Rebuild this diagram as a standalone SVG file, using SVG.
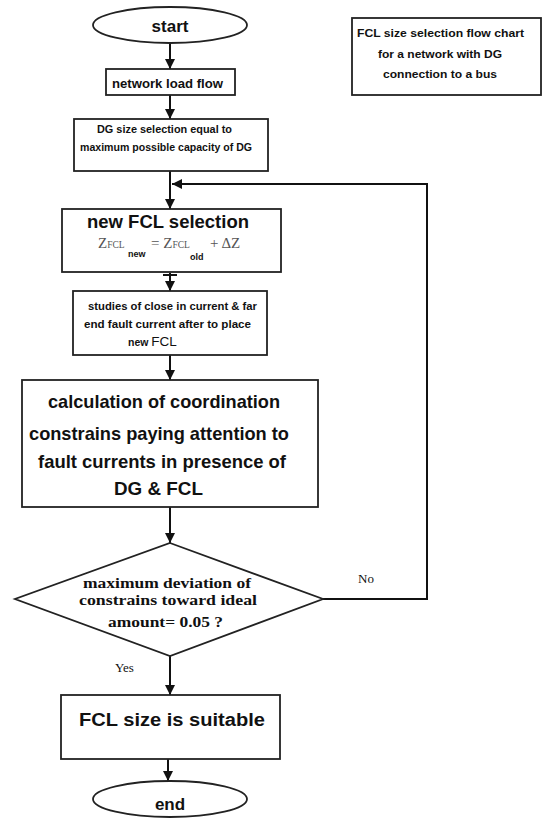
<svg xmlns="http://www.w3.org/2000/svg" width="542" height="818" viewBox="0 0 542 818">
<defs>
<marker id="ah" viewBox="0 0 10 10" refX="10" refY="5" markerWidth="10" markerHeight="10" markerUnits="userSpaceOnUse" orient="auto">
<path d="M0,0 L10,5 L0,10 z" fill="#111"/>
</marker>
<style>
.box{fill:#fff;stroke:#222;stroke-width:1.8}
.con{fill:none;stroke:#111;stroke-width:2}
.sans{font-family:"Liberation Sans",Arial,sans-serif;font-weight:bold;fill:#111}
.serif{font-family:"Liberation Serif","Times New Roman",serif;fill:#111}
.reg{font-weight:normal}
.mid{text-anchor:middle}
</style>
</defs>
<rect width="542" height="818" fill="#fff"/>

<g id="connectors">
<path class="con" d="M170 43 V69" marker-end="url(#ah)"/>
<path class="con" d="M170 95 V119" marker-end="url(#ah)"/>
<path class="con" d="M170 171 V209" marker-end="url(#ah)"/>
<path class="con" d="M323 599 H427 V184 H172" marker-end="url(#ah)"/>
<path class="con" d="M170 273 V291" marker-end="url(#ah)"/>
<path class="con" d="M163 275 H177"/>
<path class="con" d="M170 355 V380" marker-end="url(#ah)"/>
<path class="con" d="M170 507 V543" marker-end="url(#ah)"/>
<path class="con" d="M170 656 V695" marker-end="url(#ah)"/>
<path class="con" d="M168 759 V781" marker-end="url(#ah)"/>
</g>

<g id="start">
<ellipse class="box" cx="170" cy="25" rx="77" ry="18"/>
<text class="sans mid" x="170" y="32" font-size="17">start</text>
</g>

<g id="legend">
<rect class="box" x="352" y="18" width="189" height="77"/>
<text class="sans" x="357" y="37" font-size="11" textLength="167" lengthAdjust="spacingAndGlyphs">FCL size selection flow chart</text>
<text class="sans" x="378" y="58" font-size="11" textLength="124" lengthAdjust="spacingAndGlyphs">for a network with DG</text>
<text class="sans" x="383" y="78" font-size="11" textLength="114" lengthAdjust="spacingAndGlyphs">connection to a bus</text>
</g>

<g id="network">
<rect class="box" x="106" y="69" width="129" height="26"/>
<text class="sans" x="112" y="88" font-size="12.5" textLength="111" lengthAdjust="spacingAndGlyphs">network load flow</text>
</g>

<g id="dgsize">
<rect class="box" x="74" y="119" width="194" height="52"/>
<text class="sans" x="97" y="133" font-size="10.5" textLength="135" lengthAdjust="spacingAndGlyphs">DG size selection equal to</text>
<text class="sans" x="80" y="151" font-size="10.5" textLength="172" lengthAdjust="spacingAndGlyphs">maximum possible capacity of DG</text>
</g>

<g id="newfcl">
<rect class="box" x="62" y="209" width="219" height="63"/>
<text class="sans" x="87" y="228" font-size="18" textLength="162" lengthAdjust="spacingAndGlyphs">new FCL selection</text>
<g fill="#555" font-family="'Liberation Serif','Times New Roman',serif" font-size="15">
<text x="98" y="248">Z<tspan font-size="9.5">FCL</tspan></text>
<text x="151" y="248">= Z<tspan font-size="9.5">FCL</tspan></text>
<text x="210" y="248">+ ΔZ</text>
</g>
<text class="sans" x="128" y="257" font-size="9">new</text>
<text class="sans" x="190" y="260" font-size="9">old</text>
</g>

<g id="studies">
<rect class="box" x="73" y="291" width="194" height="64"/>
<text class="sans" x="88" y="310" font-size="10.5" textLength="169" lengthAdjust="spacingAndGlyphs">studies of close in current &amp; far</text>
<text class="sans" x="84" y="328" font-size="10.5" textLength="167" lengthAdjust="spacingAndGlyphs">end fault current after  to place</text>
<text class="sans" x="128" y="346" font-size="10.5">new <tspan class="reg" font-size="13.5" font-family="'Liberation Sans',Arial,sans-serif">FCL</tspan></text>
</g>

<g id="calc">
<rect class="box" x="22" y="380" width="296" height="127"/>
<text class="sans" x="48" y="408" font-size="18.5" textLength="232" lengthAdjust="spacingAndGlyphs">calculation of coordination</text>
<text class="sans" x="29" y="440" font-size="18.5" textLength="260" lengthAdjust="spacingAndGlyphs">constrains paying attention to</text>
<text class="sans" x="38" y="468" font-size="18.5" textLength="248" lengthAdjust="spacingAndGlyphs">fault currents in presence of</text>
<text class="sans" x="114" y="495" font-size="18.5" textLength="89" lengthAdjust="spacingAndGlyphs">DG &amp; FCL</text>
</g>

<g id="decision">
<polygon class="box" points="170,543 323,599 170,656 15,599"/>
<text class="serif" font-weight="bold" x="83" y="588" font-size="14.5" textLength="168" lengthAdjust="spacingAndGlyphs">maximum deviation of</text>
<text class="serif" font-weight="bold" x="79" y="605" font-size="14.5" textLength="178" lengthAdjust="spacingAndGlyphs">constrains toward ideal</text>
<text class="serif" font-weight="bold" x="108" y="627" font-size="14.5" textLength="115" lengthAdjust="spacingAndGlyphs">amount=  0.05 ?</text>
</g>

<g id="labels">
<text class="serif" x="358" y="583" font-size="13" fill="#333">No</text>
<text class="serif" x="115" y="672" font-size="13" fill="#333">Yes</text>
</g>

<g id="suitable">
<rect class="box" x="61" y="695" width="219" height="64"/>
<text class="sans" x="79" y="726" font-size="18" textLength="186" lengthAdjust="spacingAndGlyphs">FCL size is suitable</text>
</g>

<g id="end">
<ellipse class="box" cx="170" cy="799" rx="77" ry="18"/>
<text class="sans mid" x="170" y="810" font-size="17">end</text>
</g>
</svg>
